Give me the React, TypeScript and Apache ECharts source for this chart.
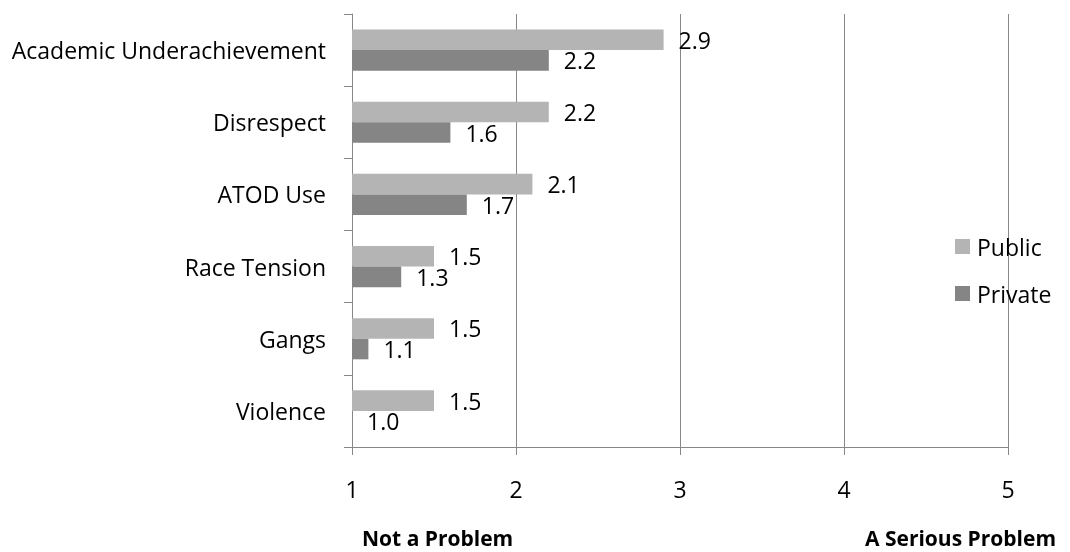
import React, { useEffect, useRef } from "react";
import * as echarts from "echarts";

const categories = [
  "Academic Underachievement",
  "Disrespect",
  "ATOD Use",
  "Race Tension",
  "Gangs",
  "Violence",
];
const publicValues = [2.9, 2.2, 2.1, 1.5, 1.5, 1.5];
const privateValues = [2.2, 1.6, 1.7, 1.3, 1.1, 1.0];
const xTicks = [1, 2, 3, 4, 5];
const scaleLow = "Not a Problem";
const scaleHigh = "A Serious Problem";

const FONT = "Open Sans";
const FS = 23;
const GRID = "#878787";
const PUB = "#b4b4b4";
const PRIV = "#858585";

export default function App() {
  const ref = useRef<HTMLDivElement>(null);
  useEffect(() => {
    if (!ref.current) return;
    const chart = echarts.init(ref.current, undefined, { renderer: "svg" });
    const base = xTicks[0];
    const baseData = categories.map(() => base);
    const mkLabel = (orig: number[]) => ({
      show: true,
      position: "right",
      distance: 15,
      color: "#000",
      fontFamily: FONT,
      fontSize: FS,
      formatter: (p: any) => orig[p.dataIndex].toFixed(1),
    });
    chart.setOption({
      animation: false,
      textStyle: { fontFamily: FONT },
      grid: { left: 352, right: 62, top: 14, bottom: 105, containLabel: false },
      legend: {
        orient: "vertical",
        left: 950,
        top: 230,
        itemWidth: 15,
        itemHeight: 15,
        itemGap: 24,
        icon: "rect",
        data: ["Public", "Private"],
        textStyle: { fontFamily: FONT, fontSize: FS, color: "#000", padding: [0, 0, 0, 2] },
        selectedMode: false,
      },
      xAxis: {
        type: "value",
        min: 1,
        max: 5,
        interval: 1,
        axisLine: { show: true, lineStyle: { color: GRID, width: 1 } },
        axisTick: { show: true, length: 8, lineStyle: { color: GRID } },
        axisLabel: { color: "#000", fontFamily: FONT, fontSize: FS, margin: 30 },
        splitLine: { show: true, lineStyle: { color: GRID, width: 1 } },
      },
      yAxis: {
        type: "category",
        data: categories,
        inverse: true,
        axisLine: { show: true, lineStyle: { color: GRID, width: 1 } },
        axisTick: { show: true, length: 8, lineStyle: { color: GRID } },
        axisLabel: { color: "#000", fontFamily: FONT, fontSize: FS, margin: 26 },
      },
      series: [
        {
          name: "_pubBase",
          type: "bar",
          stack: "pub",
          data: baseData,
          itemStyle: { color: "rgba(0,0,0,0)" },
          silent: true,
          barCategoryGap: "43%",
          barGap: "0%",
        },
        {
          name: "Public",
          type: "bar",
          stack: "pub",
          data: publicValues.map((v) => +(v - base).toFixed(2)),
          itemStyle: { color: PUB },
          label: mkLabel(publicValues),
          barCategoryGap: "43%",
          barGap: "0%",
        },
        {
          name: "_privBase",
          type: "bar",
          stack: "priv",
          data: baseData,
          itemStyle: { color: "rgba(0,0,0,0)" },
          silent: true,
          barCategoryGap: "43%",
          barGap: "0%",
        },
        {
          name: "Private",
          type: "bar",
          stack: "priv",
          data: privateValues.map((v) => +(v - base).toFixed(2)),
          itemStyle: { color: PRIV },
          label: mkLabel(privateValues),
          barCategoryGap: "43%",
          barGap: "0%",
        },
      ],
      graphic: [
        {
          type: "text",
          x: 362,
          y: 538,
          style: {
            text: scaleLow,
            font: `bold 21px ${FONT}`,
            lineHeight: 21,
            fill: "#000",
            align: "left",
            verticalAlign: "middle",
          },
        },
        {
          type: "text",
          x: 865,
          y: 538,
          style: {
            text: scaleHigh,
            font: `bold 21px ${FONT}`,
            lineHeight: 21,
            fill: "#000",
            align: "left",
            verticalAlign: "middle",
          },
        },
      ],
    });
    return () => chart.dispose();
  }, []);
  return (
    <div
      ref={ref}
      style={{ position: "fixed", left: 0, top: 0, width: 1070, height: 552 }}
    />
  );
}
